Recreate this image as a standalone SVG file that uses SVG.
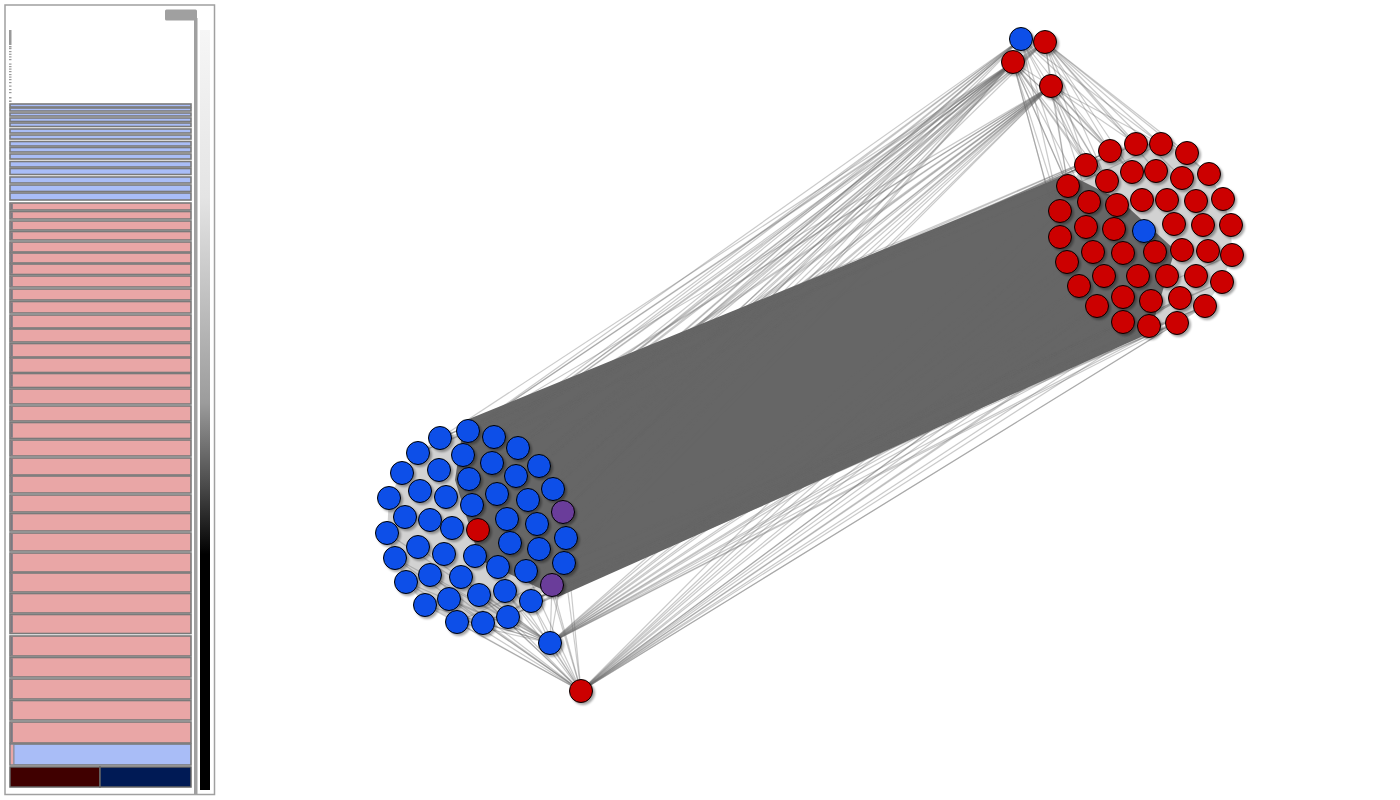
<svg xmlns="http://www.w3.org/2000/svg" width="1400" height="800" viewBox="0 0 1400 800">
<style>
.bar{stroke:#7a7a7a;stroke-width:1.6}
.bb{fill:#a9bdf7}
.pp{fill:#e9a6a6}
.ls{fill:#7a7a82}
.tk{fill:#999}
.nd{stroke:#000;stroke-width:1}
.r{fill:#cc0000}
.b{fill:#0b4fe8}
.u{fill:#6a3d9a}
</style>
<defs>
<linearGradient id="gr" x1="0" y1="0" x2="0" y2="1">
<stop offset="0" stop-color="#f6f6f6"/>
<stop offset="0.22" stop-color="#e4e4e4"/>
<stop offset="0.49" stop-color="#9c9c9c"/>
<stop offset="0.6" stop-color="#4a4a4a"/>
<stop offset="0.69" stop-color="#000"/>
<stop offset="1" stop-color="#000"/>
</linearGradient>
<filter id="sh" x="-50%" y="-50%" width="200%" height="200%">
<feDropShadow dx="2" dy="2" stdDeviation="1.2" flood-color="#000" flood-opacity="0.35"/>
</filter>
</defs>
<rect width="1400" height="800" fill="#fff"/>

<g id="panel">
<rect x="5" y="5" width="209.5" height="789.5" fill="#fff" stroke="#a0a0a0" stroke-width="1.5"/>
<rect x="165" y="9.5" width="32" height="11" rx="1.5" fill="#a0a0a0"/>
<rect x="194" y="18" width="3.5" height="777" fill="#a0a0a0"/>
<rect x="200" y="30" width="10" height="760" fill="url(#gr)"/>
<rect class="tk" x="9" y="30" width="2.5" height="15"/>
<rect class="tk" x="9" y="46" width="2.5" height="1.5"/>
<rect class="tk" x="9" y="48" width="2.5" height="1.2"/>
<rect class="tk" x="9" y="51" width="2.5" height="1.2"/>
<rect class="tk" x="9" y="53.7" width="2.5" height="1.2"/>
<rect class="tk" x="9" y="56.3" width="2.5" height="1.2"/>
<rect class="tk" x="9" y="59" width="2.5" height="1.2"/>
<rect class="tk" x="9" y="63.5" width="2.5" height="1.2"/>
<rect class="tk" x="9" y="66" width="2.5" height="1.2"/>
<rect class="tk" x="9" y="68.5" width="2.5" height="1.2"/>
<rect class="tk" x="9" y="71" width="2.5" height="1.2"/>
<rect class="tk" x="9" y="74" width="2.5" height="1.2"/>
<rect class="tk" x="9" y="76.5" width="2.5" height="1.2"/>
<rect class="tk" x="9" y="79" width="2.5" height="1.2"/>
<rect class="tk" x="9" y="82" width="2.5" height="1.2"/>
<rect class="tk" x="9" y="85.5" width="2.5" height="1.2"/>
<rect class="tk" x="9" y="89" width="2.5" height="1.2"/>
<rect class="tk" x="9" y="92" width="2.5" height="1.2"/>
<rect class="tk" x="9" y="97" width="2.5" height="1.5"/>
<rect class="tk" x="9" y="100.5" width="2.5" height="1.5"/>

<rect class="bar bb" x="10" y="104" width="181" height="3"/>
<rect class="bar bb" x="10" y="108" width="181" height="3"/>
<rect class="bar bb" x="10" y="113" width="181" height="3"/>
<rect class="bar bb" x="10" y="118" width="181" height="3.5"/>
<rect class="bar bb" x="10" y="123" width="181" height="3.5"/>
<rect class="bar bb" x="10" y="129" width="181" height="4"/>
<rect class="bar bb" x="10" y="135" width="181" height="4"/>
<rect class="bar bb" x="10" y="141.5" width="181" height="4.5"/>
<rect class="bar bb" x="10" y="147.5" width="181" height="4.5"/>
<rect class="bar bb" x="10" y="154" width="181" height="5"/>
<rect class="bar bb" x="10" y="161.5" width="181" height="5.5"/>
<rect class="bar bb" x="10" y="168.5" width="181" height="6"/>
<rect class="bar bb" x="10" y="177" width="181" height="6"/>
<rect class="bar bb" x="10" y="185" width="181" height="6.5"/>
<rect class="bar bb" x="10" y="193" width="181" height="7"/>
<rect class="bar pp" x="10" y="203" width="181" height="7"/>
<rect class="bar pp" x="10" y="211.5" width="181" height="7.5"/>
<rect class="bar pp" x="10" y="221" width="181" height="9"/>
<rect class="bar pp" x="10" y="231.5" width="181" height="8.5"/>
<rect class="bar pp" x="10" y="242" width="181" height="10"/>
<rect class="bar pp" x="10" y="253" width="181" height="10"/>
<rect class="bar pp" x="10" y="264" width="181" height="10.5"/>
<rect class="bar pp" x="10" y="276" width="181" height="11"/>
<rect class="bar pp" x="10" y="289" width="181" height="11"/>
<rect class="bar pp" x="10" y="301.5" width="181" height="11.5"/>
<rect class="bar pp" x="10" y="315" width="181" height="13"/>
<rect class="bar pp" x="10" y="329" width="181" height="13"/>
<rect class="bar pp" x="10" y="343.5" width="181" height="13.5"/>
<rect class="bar pp" x="10" y="358" width="181" height="14.5"/>
<rect class="bar pp" x="10" y="373.5" width="181" height="14"/>
<rect class="bar pp" x="10" y="389" width="181" height="15"/>
<rect class="bar pp" x="10" y="406" width="181" height="15"/>
<rect class="bar pp" x="10" y="422.5" width="181" height="16"/>
<rect class="bar pp" x="10" y="440" width="181" height="16"/>
<rect class="bar pp" x="10" y="458" width="181" height="17"/>
<rect class="bar pp" x="10" y="476" width="181" height="17"/>
<rect class="bar pp" x="10" y="495" width="181" height="17"/>
<rect class="bar pp" x="10" y="513.5" width="181" height="17.5"/>
<rect class="bar pp" x="10" y="533" width="181" height="18"/>
<rect class="bar pp" x="10" y="553" width="181" height="19"/>
<rect class="bar pp" x="10" y="573" width="181" height="19"/>
<rect class="bar pp" x="10" y="593.5" width="181" height="19.5"/>
<rect class="bar pp" x="10" y="614.5" width="181" height="19"/>
<rect class="bar pp" x="10" y="636" width="181" height="20"/>
<rect class="bar pp" x="10" y="657.5" width="181" height="19.5"/>
<rect class="bar pp" x="10" y="679" width="181" height="20"/>
<rect class="bar pp" x="10" y="700.5" width="181" height="19.5"/>
<rect class="bar pp" x="10" y="722" width="181" height="21"/>
<rect class="bar bb" x="10" y="744" width="181" height="21"/>
<rect class="pp" x="10.8" y="744.8" width="2.6" height="19.4"/>
<rect x="13.4" y="744.8" width="1" height="19.4" fill="#7f7f7f"/>

<g class="ls">
<rect x="10.8" y="203.8" width="2" height="5.4"/>
<rect x="10.8" y="212.3" width="2" height="5.9"/>
<rect x="10.8" y="221.8" width="2" height="7.4"/>
<rect x="10.8" y="232.3" width="2" height="6.9"/>
<rect x="10.8" y="242.8" width="2" height="8.4"/>
<rect x="10.8" y="253.8" width="2" height="8.4"/>
<rect x="10.8" y="264.8" width="2" height="8.9"/>
<rect x="10.8" y="276.8" width="2" height="9.4"/>
<rect x="10.8" y="289.8" width="2" height="9.4"/>
<rect x="10.8" y="302.3" width="2" height="9.9"/>
<rect x="10.8" y="315.8" width="2" height="11.4"/>
<rect x="10.8" y="329.8" width="2" height="11.4"/>
<rect x="10.8" y="344.3" width="2" height="11.9"/>
<rect x="10.8" y="358.8" width="2" height="12.9"/>
<rect x="10.8" y="374.3" width="2" height="12.4"/>
<rect x="10.8" y="389.8" width="2" height="13.4"/>
<rect x="10.8" y="406.8" width="2" height="13.4"/>
<rect x="10.8" y="423.3" width="2" height="14.4"/>
<rect x="10.8" y="440.8" width="2" height="14.4"/>
<rect x="10.8" y="458.8" width="2" height="15.4"/>
<rect x="10.8" y="476.8" width="2" height="15.4"/>
<rect x="10.8" y="495.8" width="2" height="15.4"/>
<rect x="10.8" y="514.3" width="2" height="15.9"/>
<rect x="10.8" y="533.8" width="2" height="16.4"/>
<rect x="10.8" y="553.8" width="2" height="17.4"/>
<rect x="10.8" y="573.8" width="2" height="17.4"/>
<rect x="10.8" y="594.3" width="2" height="17.9"/>
<rect x="10.8" y="615.3" width="2" height="17.4"/>
<rect x="10.8" y="636.8" width="2" height="18.4"/>
<rect x="10.8" y="658.3" width="2" height="17.9"/>
<rect x="10.8" y="679.8" width="2" height="18.4"/>
<rect x="10.8" y="701.3" width="2" height="17.9"/>
<rect x="10.8" y="722.8" width="2" height="19.4"/>
</g>
<rect x="10" y="767" width="90" height="20" fill="#400000" stroke="#666" stroke-width="1.5"/>
<rect x="100" y="767" width="91" height="20" fill="#001a55" stroke="#666" stroke-width="1.5"/>
</g>

<g id="edges">
<polygon points="468,431 440,438 418,453 402,473 389,498 387,533 395,558 406,582 425,605 457,622 483,623 508,617 531,601 552,585 564,563 566,538 563,512 553,489 539,466 518,448 494,437" fill="#b4b4b4" fill-opacity="0.6"/>
<polygon points="1110,151 1136,144 1161,144 1187,153 1209,174 1223,199 1231,225 1232,255 1222,282 1205,306 1177,323 1149,326 1123,322 1097,306 1079,286 1067,262 1060,237 1060,211 1068,186 1086,165" fill="#b4b4b4" fill-opacity="0.6"/>
<polygon points="464,421 1068,174 1120,200 1175,250 1150,333 558,597 480,560 455,480" fill="#666"/>
<g stroke="#666" stroke-opacity="0.35" stroke-width="1.2">
<line x1="1013" y1="62" x2="468" y2="431"/>
<line x1="1013" y1="62" x2="494" y2="437"/>
<line x1="1013" y1="62" x2="518" y2="448"/>
<line x1="1013" y1="62" x2="539" y2="466"/>
<line x1="1013" y1="62" x2="553" y2="489"/>
<line x1="1013" y1="62" x2="563" y2="512"/>
<line x1="1013" y1="62" x2="566" y2="538"/>
<line x1="1013" y1="62" x2="564" y2="563"/>
<line x1="1013" y1="62" x2="463" y2="455"/>
<line x1="1013" y1="62" x2="492" y2="463"/>
<line x1="1013" y1="62" x2="516" y2="476"/>
<line x1="1013" y1="62" x2="528" y2="500"/>
<line x1="1013" y1="62" x2="537" y2="524"/>
<line x1="1013" y1="62" x2="552" y2="585"/>
<line x1="1013" y1="62" x2="440" y2="438"/>
<line x1="1013" y1="62" x2="469" y2="479"/>
<line x1="1013" y1="62" x2="497" y2="494"/>
<line x1="1021" y1="39" x2="468" y2="431"/>
<line x1="1021" y1="39" x2="494" y2="437"/>
<line x1="1021" y1="39" x2="518" y2="448"/>
<line x1="1021" y1="39" x2="539" y2="466"/>
<line x1="1021" y1="39" x2="553" y2="489"/>
<line x1="1021" y1="39" x2="563" y2="512"/>
<line x1="1021" y1="39" x2="516" y2="476"/>
<line x1="1021" y1="39" x2="497" y2="494"/>
<line x1="1021" y1="39" x2="463" y2="455"/>
<line x1="1021" y1="39" x2="492" y2="463"/>
<line x1="1045" y1="42" x2="494" y2="437"/>
<line x1="1045" y1="42" x2="518" y2="448"/>
<line x1="1045" y1="42" x2="539" y2="466"/>
<line x1="1045" y1="42" x2="553" y2="489"/>
<line x1="1045" y1="42" x2="528" y2="500"/>
<line x1="1045" y1="42" x2="563" y2="512"/>
<line x1="1045" y1="42" x2="468" y2="431"/>
<line x1="1045" y1="42" x2="516" y2="476"/>
<line x1="1051" y1="86" x2="468" y2="431"/>
<line x1="1051" y1="86" x2="494" y2="437"/>
<line x1="1051" y1="86" x2="518" y2="448"/>
<line x1="1051" y1="86" x2="539" y2="466"/>
<line x1="1051" y1="86" x2="553" y2="489"/>
<line x1="1051" y1="86" x2="563" y2="512"/>
<line x1="1051" y1="86" x2="566" y2="538"/>
<line x1="1051" y1="86" x2="564" y2="563"/>
<line x1="1051" y1="86" x2="552" y2="585"/>
<line x1="1051" y1="86" x2="537" y2="524"/>
<line x1="1051" y1="86" x2="528" y2="500"/>
<line x1="1051" y1="86" x2="516" y2="476"/>
<line x1="1051" y1="86" x2="492" y2="463"/>
<line x1="1051" y1="86" x2="463" y2="455"/>
<line x1="1051" y1="86" x2="507" y2="519"/>
<line x1="1051" y1="86" x2="539" y2="549"/>
<line x1="1051" y1="86" x2="510" y2="543"/>
<line x1="1051" y1="86" x2="497" y2="494"/>
<line x1="1013" y1="62" x2="1068" y2="186"/>
<line x1="1013" y1="62" x2="1060" y2="211"/>
<line x1="1013" y1="62" x2="1086" y2="165"/>
<line x1="1013" y1="62" x2="1110" y2="151"/>
<line x1="1013" y1="62" x2="1107" y2="181"/>
<line x1="1013" y1="62" x2="1089" y2="202"/>
<line x1="1013" y1="62" x2="1060" y2="237"/>
<line x1="1013" y1="62" x2="1086" y2="227"/>
<line x1="1013" y1="62" x2="1067" y2="262"/>
<line x1="1013" y1="62" x2="1132" y2="172"/>
<line x1="1013" y1="62" x2="1117" y2="205"/>
<line x1="1045" y1="42" x2="1110" y2="151"/>
<line x1="1045" y1="42" x2="1136" y2="144"/>
<line x1="1045" y1="42" x2="1161" y2="144"/>
<line x1="1045" y1="42" x2="1187" y2="153"/>
<line x1="1045" y1="42" x2="1132" y2="172"/>
<line x1="1045" y1="42" x2="1156" y2="171"/>
<line x1="1045" y1="42" x2="1086" y2="165"/>
<line x1="1045" y1="42" x2="1107" y2="181"/>
<line x1="1045" y1="42" x2="1182" y2="178"/>
<line x1="1045" y1="42" x2="1068" y2="186"/>
<line x1="1045" y1="42" x2="1209" y2="174"/>
<line x1="1021" y1="39" x2="1086" y2="165"/>
<line x1="1021" y1="39" x2="1110" y2="151"/>
<line x1="1021" y1="39" x2="1136" y2="144"/>
<line x1="1021" y1="39" x2="1068" y2="186"/>
<line x1="1021" y1="39" x2="1107" y2="181"/>
<line x1="1021" y1="39" x2="1060" y2="211"/>
<line x1="1021" y1="39" x2="1161" y2="144"/>
<line x1="1051" y1="86" x2="1086" y2="165"/>
<line x1="1051" y1="86" x2="1110" y2="151"/>
<line x1="1051" y1="86" x2="1068" y2="186"/>
<line x1="1051" y1="86" x2="1136" y2="144"/>
<line x1="1051" y1="86" x2="1107" y2="181"/>
<line x1="1051" y1="86" x2="1089" y2="202"/>
<line x1="1051" y1="86" x2="1161" y2="144"/>
<line x1="1051" y1="86" x2="1132" y2="172"/>
<line x1="1021" y1="39" x2="1045" y2="42"/>
<line x1="1021" y1="39" x2="1013" y2="62"/>
<line x1="1045" y1="42" x2="1013" y2="62"/>
<line x1="1013" y1="62" x2="1051" y2="86"/>
<line x1="1045" y1="42" x2="1051" y2="86"/>
<line x1="550" y1="643" x2="1060" y2="237"/>
<line x1="550" y1="643" x2="1067" y2="262"/>
<line x1="550" y1="643" x2="1079" y2="286"/>
<line x1="550" y1="643" x2="1097" y2="306"/>
<line x1="550" y1="643" x2="1123" y2="322"/>
<line x1="550" y1="643" x2="1149" y2="326"/>
<line x1="550" y1="643" x2="1177" y2="323"/>
<line x1="550" y1="643" x2="1104" y2="276"/>
<line x1="550" y1="643" x2="1123" y2="297"/>
<line x1="550" y1="643" x2="1151" y2="301"/>
<line x1="550" y1="643" x2="1093" y2="252"/>
<line x1="550" y1="643" x2="1060" y2="211"/>
<line x1="550" y1="643" x2="1068" y2="186"/>
<line x1="550" y1="643" x2="1180" y2="298"/>
<line x1="550" y1="643" x2="1205" y2="306"/>
<line x1="550" y1="643" x2="1086" y2="227"/>
<line x1="550" y1="643" x2="1138" y2="276"/>
<line x1="581" y1="691" x2="1067" y2="262"/>
<line x1="581" y1="691" x2="1079" y2="286"/>
<line x1="581" y1="691" x2="1097" y2="306"/>
<line x1="581" y1="691" x2="1123" y2="322"/>
<line x1="581" y1="691" x2="1149" y2="326"/>
<line x1="581" y1="691" x2="1177" y2="323"/>
<line x1="581" y1="691" x2="1205" y2="306"/>
<line x1="581" y1="691" x2="1151" y2="301"/>
<line x1="581" y1="691" x2="1123" y2="297"/>
<line x1="581" y1="691" x2="1104" y2="276"/>
<line x1="581" y1="691" x2="1060" y2="237"/>
<line x1="581" y1="691" x2="1093" y2="252"/>
<line x1="581" y1="691" x2="1138" y2="276"/>
<line x1="581" y1="691" x2="1180" y2="298"/>
<line x1="581" y1="691" x2="1060" y2="211"/>
<line x1="581" y1="691" x2="1086" y2="227"/>
<line x1="581" y1="691" x2="1167" y2="276"/>
<line x1="581" y1="691" x2="425" y2="605"/>
<line x1="581" y1="691" x2="457" y2="622"/>
<line x1="581" y1="691" x2="483" y2="623"/>
<line x1="581" y1="691" x2="508" y2="617"/>
<line x1="581" y1="691" x2="531" y2="601"/>
<line x1="581" y1="691" x2="552" y2="585"/>
<line x1="581" y1="691" x2="406" y2="582"/>
<line x1="581" y1="691" x2="449" y2="599"/>
<line x1="581" y1="691" x2="479" y2="595"/>
<line x1="581" y1="691" x2="505" y2="591"/>
<line x1="581" y1="691" x2="564" y2="563"/>
<line x1="581" y1="691" x2="566" y2="538"/>
<line x1="581" y1="691" x2="430" y2="575"/>
<line x1="581" y1="691" x2="395" y2="558"/>
<line x1="581" y1="691" x2="461" y2="577"/>
<line x1="581" y1="691" x2="526" y2="571"/>
<line x1="581" y1="691" x2="539" y2="549"/>
<line x1="581" y1="691" x2="498" y2="567"/>
<line x1="581" y1="691" x2="550" y2="643"/>
<line x1="550" y1="643" x2="425" y2="605"/>
<line x1="550" y1="643" x2="457" y2="622"/>
<line x1="550" y1="643" x2="483" y2="623"/>
<line x1="550" y1="643" x2="508" y2="617"/>
<line x1="550" y1="643" x2="531" y2="601"/>
<line x1="550" y1="643" x2="552" y2="585"/>
<line x1="550" y1="643" x2="406" y2="582"/>
<line x1="550" y1="643" x2="449" y2="599"/>
<line x1="550" y1="643" x2="479" y2="595"/>
<line x1="550" y1="643" x2="505" y2="591"/>
<line x1="550" y1="643" x2="564" y2="563"/>
<line x1="550" y1="643" x2="395" y2="558"/>
<line x1="550" y1="643" x2="430" y2="575"/>
<line x1="550" y1="643" x2="387" y2="533"/>
<line x1="550" y1="643" x2="418" y2="547"/>
<line x1="550" y1="643" x2="461" y2="577"/>
<line x1="552" y1="585" x2="1177" y2="323"/>
<line x1="564" y1="563" x2="1205" y2="306"/>
<line x1="531" y1="601" x2="1149" y2="326"/>
<line x1="508" y1="617" x2="1123" y2="322"/>
<line x1="531" y1="601" x2="1177" y2="323"/>
<line x1="552" y1="585" x2="1205" y2="306"/>
<line x1="566" y1="538" x2="1232" y2="255"/>
<line x1="564" y1="563" x2="1222" y2="282"/>
<line x1="508" y1="617" x2="1177" y2="323"/>
<line x1="483" y1="623" x2="1149" y2="326"/>
<line x1="457" y1="622" x2="1123" y2="322"/>
<line x1="508" y1="617" x2="1149" y2="326"/>
<line x1="483" y1="623" x2="1123" y2="322"/>
<line x1="531" y1="601" x2="1205" y2="306"/>
<line x1="552" y1="585" x2="1149" y2="326"/>
<line x1="531" y1="601" x2="1123" y2="322"/>
<line x1="564" y1="563" x2="1177" y2="323"/>
<line x1="552" y1="585" x2="1222" y2="282"/>
<line x1="468" y1="431" x2="1110" y2="151"/>
<line x1="440" y1="438" x2="1086" y2="165"/>
<line x1="468" y1="431" x2="1136" y2="144"/>
<line x1="494" y1="437" x2="1110" y2="151"/>
<line x1="440" y1="438" x2="1068" y2="186"/>
<line x1="418" y1="453" x2="1068" y2="186"/>
<line x1="468" y1="431" x2="1086" y2="165"/>
<line x1="494" y1="437" x2="1136" y2="144"/>
<line x1="518" y1="448" x2="1161" y2="144"/>
<line x1="440" y1="438" x2="1110" y2="151"/>
<line x1="463" y1="455" x2="1086" y2="165"/>
<line x1="418" y1="453" x2="1086" y2="165"/>
<line x1="468" y1="431" x2="1068" y2="186"/>
<line x1="494" y1="437" x2="1086" y2="165"/>
<line x1="463" y1="455" x2="1110" y2="151"/>
</g>
</g>

<g id="nodes" filter="url(#sh)">
<g id="n1"><circle class="nd b" cx="468" cy="431" r="11.5"/></g>
<g id="n2"><circle class="nd b" cx="494" cy="437" r="11.5"/></g>
<g id="n3"><circle class="nd b" cx="440" cy="438" r="11.5"/></g>
<g id="n4"><circle class="nd b" cx="518" cy="448" r="11.5"/></g>
<g id="n5"><circle class="nd b" cx="418" cy="453" r="11.5"/></g>
<g id="n6"><circle class="nd b" cx="463" cy="455" r="11.5"/></g>
<g id="n7"><circle class="nd b" cx="492" cy="463" r="11.5"/></g>
<g id="n8"><circle class="nd b" cx="539" cy="466" r="11.5"/></g>
<g id="n9"><circle class="nd b" cx="402" cy="473" r="11.5"/></g>
<g id="n10"><circle class="nd b" cx="439" cy="470" r="11.5"/></g>
<g id="n11"><circle class="nd b" cx="516" cy="476" r="11.5"/></g>
<g id="n12"><circle class="nd b" cx="469" cy="479" r="11.5"/></g>
<g id="n13"><circle class="nd b" cx="553" cy="489" r="11.5"/></g>
<g id="n14"><circle class="nd b" cx="420" cy="491" r="11.5"/></g>
<g id="n15"><circle class="nd b" cx="446" cy="497" r="11.5"/></g>
<g id="n16"><circle class="nd b" cx="497" cy="494" r="11.5"/></g>
<g id="n17"><circle class="nd b" cx="528" cy="500" r="11.5"/></g>
<g id="n18"><circle class="nd b" cx="389" cy="498" r="11.5"/></g>
<g id="n19"><circle class="nd b" cx="472" cy="505" r="11.5"/></g>
<g id="n20"><circle class="nd u" cx="563" cy="512" r="11.5"/></g>
<g id="n21"><circle class="nd b" cx="405" cy="517" r="11.5"/></g>
<g id="n22"><circle class="nd b" cx="430" cy="520" r="11.5"/></g>
<g id="n23"><circle class="nd b" cx="507" cy="519" r="11.5"/></g>
<g id="n24"><circle class="nd b" cx="537" cy="524" r="11.5"/></g>
<g id="n25"><circle class="nd b" cx="452" cy="528" r="11.5"/></g>
<g id="n26"><circle class="nd r" cx="478" cy="530" r="11.5"/></g>
<g id="n27"><circle class="nd b" cx="387" cy="533" r="11.5"/></g>
<g id="n28"><circle class="nd b" cx="510" cy="543" r="11.5"/></g>
<g id="n29"><circle class="nd b" cx="566" cy="538" r="11.5"/></g>
<g id="n30"><circle class="nd b" cx="539" cy="549" r="11.5"/></g>
<g id="n31"><circle class="nd b" cx="418" cy="547" r="11.5"/></g>
<g id="n32"><circle class="nd b" cx="444" cy="554" r="11.5"/></g>
<g id="n33"><circle class="nd b" cx="475" cy="556" r="11.5"/></g>
<g id="n34"><circle class="nd b" cx="395" cy="558" r="11.5"/></g>
<g id="n35"><circle class="nd b" cx="498" cy="567" r="11.5"/></g>
<g id="n36"><circle class="nd b" cx="526" cy="571" r="11.5"/></g>
<g id="n37"><circle class="nd b" cx="564" cy="563" r="11.5"/></g>
<g id="n38"><circle class="nd b" cx="430" cy="575" r="11.5"/></g>
<g id="n39"><circle class="nd b" cx="461" cy="577" r="11.5"/></g>
<g id="n40"><circle class="nd b" cx="406" cy="582" r="11.5"/></g>
<g id="n41"><circle class="nd u" cx="552" cy="585" r="11.5"/></g>
<g id="n42"><circle class="nd b" cx="479" cy="595" r="11.5"/></g>
<g id="n43"><circle class="nd b" cx="505" cy="591" r="11.5"/></g>
<g id="n44"><circle class="nd b" cx="531" cy="601" r="11.5"/></g>
<g id="n45"><circle class="nd b" cx="449" cy="599" r="11.5"/></g>
<g id="n46"><circle class="nd b" cx="425" cy="605" r="11.5"/></g>
<g id="n47"><circle class="nd b" cx="457" cy="622" r="11.5"/></g>
<g id="n48"><circle class="nd b" cx="483" cy="623" r="11.5"/></g>
<g id="n49"><circle class="nd b" cx="508" cy="617" r="11.5"/></g>
<g id="n50"><circle class="nd b" cx="550" cy="643" r="11.5"/></g>
<g id="n51"><circle class="nd r" cx="581" cy="691" r="11.5"/></g>
<g id="n52"><circle class="nd b" cx="1021" cy="39" r="11.5"/></g>
<g id="n53"><circle class="nd r" cx="1045" cy="42" r="11.5"/></g>
<g id="n54"><circle class="nd r" cx="1013" cy="62" r="11.5"/></g>
<g id="n55"><circle class="nd r" cx="1051" cy="86" r="11.5"/></g>
<g id="n56"><circle class="nd r" cx="1110" cy="151" r="11.5"/></g>
<g id="n57"><circle class="nd r" cx="1136" cy="144" r="11.5"/></g>
<g id="n58"><circle class="nd r" cx="1161" cy="144" r="11.5"/></g>
<g id="n59"><circle class="nd r" cx="1187" cy="153" r="11.5"/></g>
<g id="n60"><circle class="nd r" cx="1086" cy="165" r="11.5"/></g>
<g id="n61"><circle class="nd r" cx="1132" cy="172" r="11.5"/></g>
<g id="n62"><circle class="nd r" cx="1156" cy="171" r="11.5"/></g>
<g id="n63"><circle class="nd r" cx="1182" cy="178" r="11.5"/></g>
<g id="n64"><circle class="nd r" cx="1209" cy="174" r="11.5"/></g>
<g id="n65"><circle class="nd r" cx="1107" cy="181" r="11.5"/></g>
<g id="n66"><circle class="nd r" cx="1068" cy="186" r="11.5"/></g>
<g id="n67"><circle class="nd r" cx="1089" cy="202" r="11.5"/></g>
<g id="n68"><circle class="nd r" cx="1117" cy="205" r="11.5"/></g>
<g id="n69"><circle class="nd r" cx="1142" cy="200" r="11.5"/></g>
<g id="n70"><circle class="nd r" cx="1167" cy="200" r="11.5"/></g>
<g id="n71"><circle class="nd r" cx="1196" cy="201" r="11.5"/></g>
<g id="n72"><circle class="nd r" cx="1223" cy="199" r="11.5"/></g>
<g id="n73"><circle class="nd r" cx="1060" cy="211" r="11.5"/></g>
<g id="n74"><circle class="nd r" cx="1086" cy="227" r="11.5"/></g>
<g id="n75"><circle class="nd r" cx="1114" cy="229" r="11.5"/></g>
<g id="n76"><circle class="nd b" cx="1144" cy="231" r="11.5"/></g>
<g id="n77"><circle class="nd r" cx="1174" cy="224" r="11.5"/></g>
<g id="n78"><circle class="nd r" cx="1203" cy="225" r="11.5"/></g>
<g id="n79"><circle class="nd r" cx="1231" cy="225" r="11.5"/></g>
<g id="n80"><circle class="nd r" cx="1060" cy="237" r="11.5"/></g>
<g id="n81"><circle class="nd r" cx="1093" cy="252" r="11.5"/></g>
<g id="n82"><circle class="nd r" cx="1123" cy="253" r="11.5"/></g>
<g id="n83"><circle class="nd r" cx="1155" cy="252" r="11.5"/></g>
<g id="n84"><circle class="nd r" cx="1182" cy="250" r="11.5"/></g>
<g id="n85"><circle class="nd r" cx="1208" cy="251" r="11.5"/></g>
<g id="n86"><circle class="nd r" cx="1232" cy="255" r="11.5"/></g>
<g id="n87"><circle class="nd r" cx="1067" cy="262" r="11.5"/></g>
<g id="n88"><circle class="nd r" cx="1104" cy="276" r="11.5"/></g>
<g id="n89"><circle class="nd r" cx="1138" cy="276" r="11.5"/></g>
<g id="n90"><circle class="nd r" cx="1167" cy="276" r="11.5"/></g>
<g id="n91"><circle class="nd r" cx="1196" cy="276" r="11.5"/></g>
<g id="n92"><circle class="nd r" cx="1222" cy="282" r="11.5"/></g>
<g id="n93"><circle class="nd r" cx="1079" cy="286" r="11.5"/></g>
<g id="n94"><circle class="nd r" cx="1123" cy="297" r="11.5"/></g>
<g id="n95"><circle class="nd r" cx="1151" cy="301" r="11.5"/></g>
<g id="n96"><circle class="nd r" cx="1180" cy="298" r="11.5"/></g>
<g id="n97"><circle class="nd r" cx="1205" cy="306" r="11.5"/></g>
<g id="n98"><circle class="nd r" cx="1097" cy="306" r="11.5"/></g>
<g id="n99"><circle class="nd r" cx="1123" cy="322" r="11.5"/></g>
<g id="n100"><circle class="nd r" cx="1149" cy="326" r="11.5"/></g>
<g id="n101"><circle class="nd r" cx="1177" cy="323" r="11.5"/></g>
</g>
</svg>
